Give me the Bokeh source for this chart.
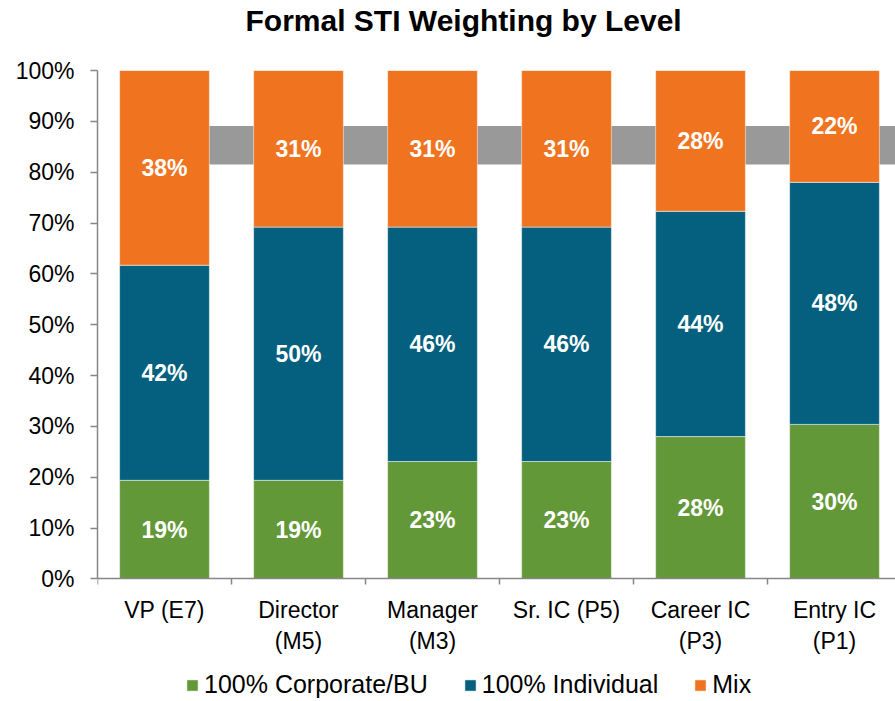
from bokeh.plotting import figure
from bokeh.models import (ColumnDataSource, Range1d, FixedTicker, SingleIntervalTicker,
                          PrintfTickFormatter, Legend, LegendItem, BoxAnnotation)
from bokeh.core.properties import value
from bokeh.embed import file_html
from bokeh.resources import INLINE

# ---- data ----
levels = ["VP (E7)", "Director\n(M5)", "Manager\n(M3)", "Sr. IC (P5)", "Career IC\n(P3)", "Entry IC\n(P1)"]
corporate = [19.4, 19.4, 23.1, 23.1, 28.0, 30.4]
individual = [42.3, 49.8, 46.1, 46.1, 44.3, 47.6]
mix = [38.3, 30.8, 30.8, 30.8, 27.7, 22.0]
series_names = ["100% Corporate/BU", "100% Individual", "Mix"]
band_low, band_high = 81.5, 89.1
title_text = "Formal STI Weighting by Level"

colors = ["#639838", "#04607E", "#F07420"]
FONT = "Liberation Sans"

x = [i + 0.5 for i in range(len(levels))]
series = [corporate, individual, mix]

# frame extends below zero to host category labels and legend
p = figure(frame_width=798, frame_height=631, output_backend="svg", toolbar_location=None,
           x_range=Range1d(0, 5.955), y_range=Range1d(-24.1, 100),
           min_border_left=97, min_border_right=0, min_border_top=70, min_border_bottom=0)
p.outline_line_color = None
p.xgrid.visible = False
p.ygrid.visible = False

p.title.text = title_text + "\n"
p.title.text_font = FONT
p.title.text_font_size = "30px"
p.title.text_line_height = 1.0
p.title.text_font_style = "bold"
p.title.text_color = "#000000"
p.title.align = "left"
p.title.offset = 148
p.title.standoff = 2

band = BoxAnnotation(left=x[0], bottom=band_low, top=band_high, fill_color="#999999",
                     fill_alpha=1.0, line_color=None, level="underlay")
p.add_layout(band)

renderers = []
bottoms = [0.0] * len(levels)
for vals, col in zip(series, colors):
    tops = [b + v for b, v in zip(bottoms, vals)]
    src = ColumnDataSource(dict(x=x, bottom=bottoms, top=tops,
                                mid=[(b + t) / 2 for b, t in zip(bottoms, tops)],
                                lab=[f"{round(v):.0f}%" for v in vals]))
    r = p.vbar(x="x", bottom="bottom", top="top", width=0.67, source=src,
               fill_color=col, line_color="white", line_alpha=0.5, line_width=1)
    p.text(x="x", y="mid", text="lab", source=src, text_color="white",
           text_font=value(FONT), text_font_size="23px", text_font_style="bold",
           text_align="center", text_baseline="middle")
    renderers.append(r)
    bottoms = tops

# y axis
yax = p.yaxis[0]
yax.bounds = (0, 100)
yax.ticker = SingleIntervalTicker(interval=10)
yax.formatter = PrintfTickFormatter(format="%d%%")
yax.axis_line_color = "#868686"
yax.axis_line_width = 1.5
yax.major_tick_line_color = "#868686"
yax.major_tick_line_width = 1.5
yax.major_tick_out = 7
yax.major_tick_in = 0
yax.minor_tick_line_color = None
yax.major_label_text_font = FONT
yax.major_label_text_font_size = "23px"
yax.major_label_text_color = "#000000"
yax.major_label_standoff = 16

# x axis, drawn at y = 0
xax = p.xaxis[0]
xax.axis_label = None
xax.fixed_location = 0
xax.ticker = FixedTicker(ticks=x, minor_ticks=list(range(len(levels) + 1)))
xax.major_label_overrides = {xi: lab for xi, lab in zip(x, levels)}
xax.axis_line_color = "#868686"
xax.axis_line_width = 1.5
xax.major_tick_line_color = None
xax.minor_tick_line_color = "#868686"
xax.minor_tick_line_width = 1.5
xax.minor_tick_out = 6
xax.minor_tick_in = 0
xax.major_label_text_font = FONT
xax.major_label_text_font_size = "23px"
xax.major_label_text_color = "#000000"
xax.major_label_standoff = 12

legend = Legend(items=[LegendItem(label=n, renderers=[r]) for n, r in zip(series_names, renderers)],
                orientation="horizontal", location=(88, 2), glyph_width=14, glyph_height=14,
                label_standoff=5, spacing=35, padding=0, margin=0, border_line_color=None,
                background_fill_alpha=0,
                label_text_font=FONT, label_text_font_size="25px", label_text_color="#000000")
p.add_layout(legend, "center")

open("out.html", "w").write(file_html(p, INLINE))
